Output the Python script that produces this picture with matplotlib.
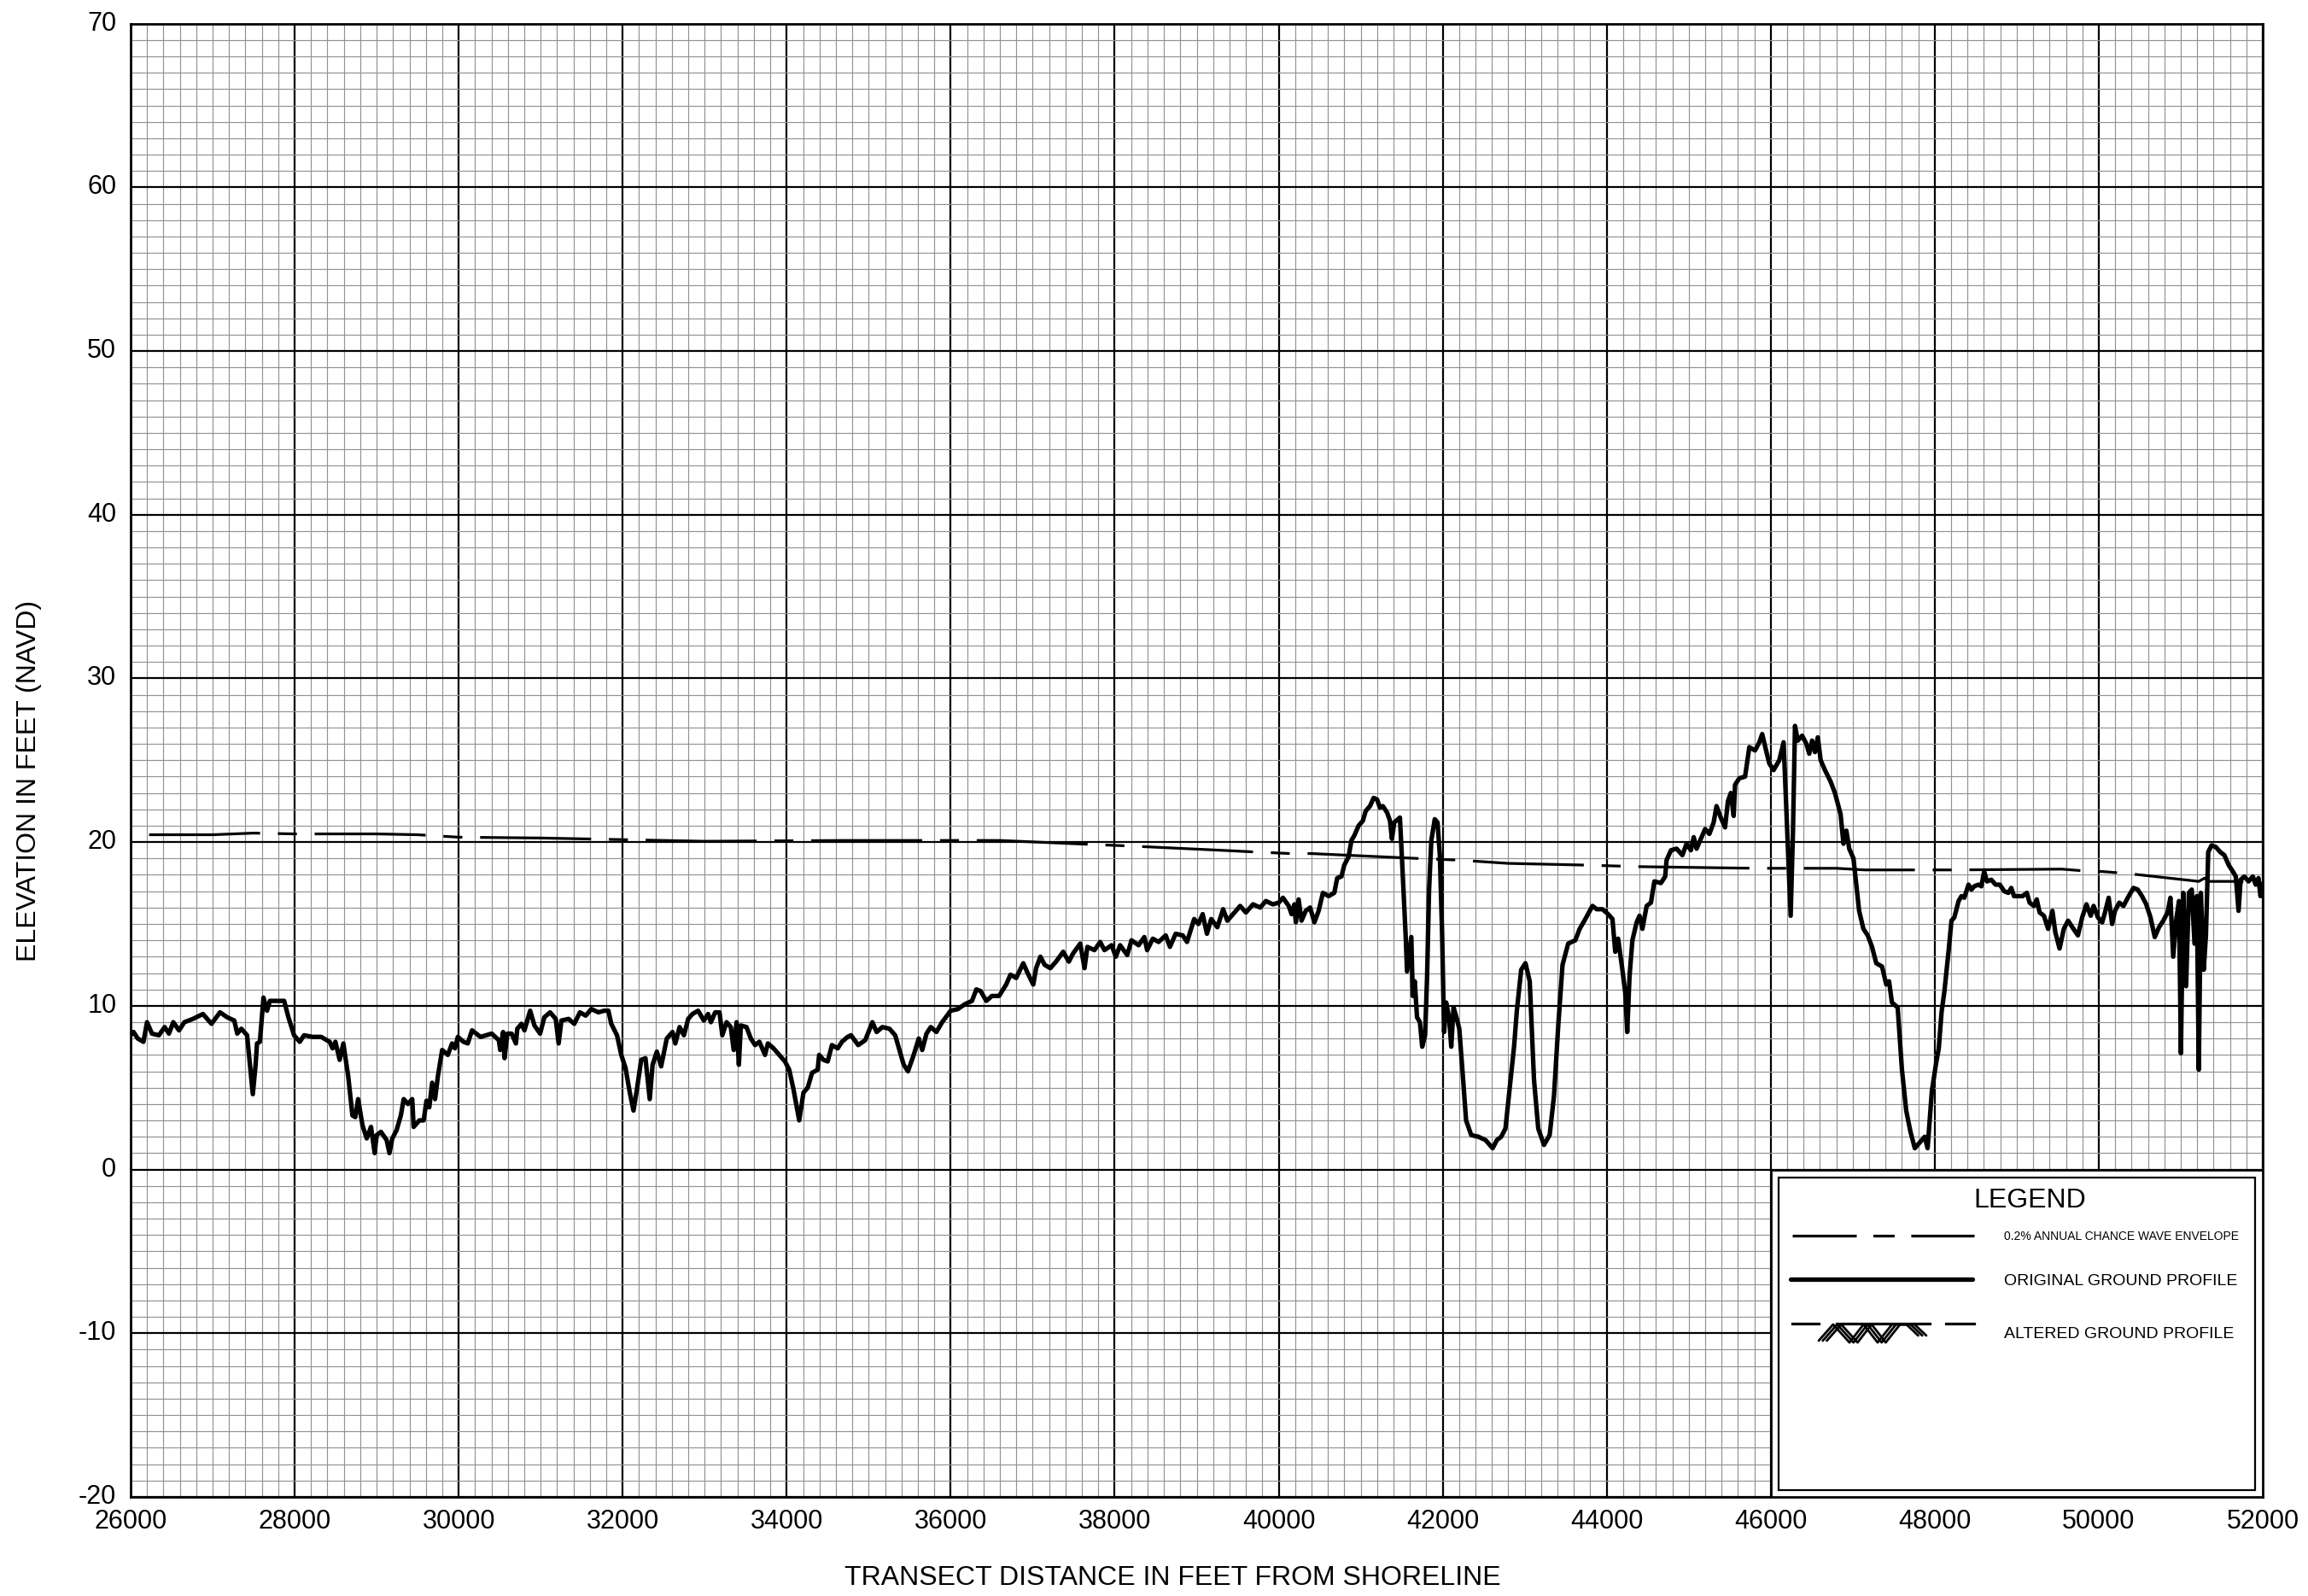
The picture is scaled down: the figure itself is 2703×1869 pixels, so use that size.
import matplotlib
matplotlib.use("Agg")
import matplotlib.pyplot as plt
from matplotlib import font_manager
from matplotlib.patches import Rectangle
from matplotlib.transforms import ScaledTranslation
import numpy as np

plt.rcParams['font.family'] = ['Liberation Sans', 'DejaVu Sans']
plt.rcParams['lines.scale_dashes'] = False
plt.rcParams['axes.unicode_minus'] = False

# ---- data ----
x_ticks = [26000, 28000, 30000, 32000, 34000, 36000, 38000, 40000, 42000,
           44000, 46000, 48000, 50000, 52000]
y_ticks = [-20, -10, 0, 10, 20, 30, 40, 50, 60, 70]

# 0.2% annual chance wave envelope
envelope_x = [26000, 27000, 27500, 28000, 29000, 29500, 30000, 31000, 31500,
              32500, 33000, 34700, 36600, 37700, 38150, 39300, 39700, 40150,
              40400, 41700, 42200, 42800, 43700, 44400, 45800, 46800, 47150,
              48000, 48250, 49550, 49800, 50050, 50300, 50500, 51220, 51290,
              51340, 51650, 52000]
envelope_y = [20.45, 20.45, 20.55, 20.5, 20.5, 20.45, 20.3, 20.25, 20.2,
              20.1, 20.05, 20.1, 20.1, 19.86, 19.77, 19.5, 19.4, 19.3,
              19.3, 19.0, 18.9, 18.7, 18.6, 18.5, 18.4, 18.4, 18.3,
              18.3, 18.3, 18.35, 18.25, 18.2, 18.1, 18.0, 17.6, 17.8,
              17.6, 17.6, 17.5]

# original ground profile
profile_x = [
    26000, 26035, 26087, 26156, 26200, 26260, 26345, 26415, 26467, 26520,
    26590, 26656, 26760, 26882, 26986, 27090, 27177, 27264, 27300, 27350,
    27420, 27455, 27490, 27524, 27541, 27576, 27620, 27663, 27698, 27872,
    27924, 27993, 28062, 28115, 28220, 28323, 28427, 28462, 28497, 28549,
    28594, 28653, 28705, 28740, 28774, 28827, 28879, 28931, 28976, 29000,
    29052, 29122, 29156, 29191, 29243, 29295, 29330, 29382, 29434, 29451,
    29521, 29573, 29608, 29642, 29677, 29712, 29747, 29799, 29868, 29920,
    29955, 29990, 30059, 30111, 30163, 30267, 30337,
    30403, 30490, 30507, 30542, 30559, 30594, 30646, 30698, 30715, 30767,
    30802, 30872, 30924, 30993, 31045, 31115, 31184, 31219, 31253, 31340,
    31410, 31479, 31549, 31618, 31705, 31774, 31826, 31861, 31931, 31983,
    32035, 32087, 32132, 32174, 32226, 32278, 32330, 32365, 32417, 32469,
    32538, 32608, 32642, 32694, 32747, 32799, 32851, 32920, 32990, 33042,
    33076, 33128, 33181, 33215, 33267, 33319, 33354, 33389, 33417, 33441,
    33510, 33563, 33615, 33667, 33736, 33771, 33840, 33910, 33979, 34031,
    34083, 34153, 34205, 34257, 34309, 34378, 34396, 34448, 34500, 34552,
    34622, 34674, 34743,
    34785, 34872, 34958, 35045, 35097, 35167, 35253, 35323, 35375, 35427,
    35479, 35549, 35611, 35653, 35705, 35757, 35826, 35896, 36000, 36087,
    36174, 36260, 36313, 36365, 36434, 36503, 36590, 36677, 36729, 36799,
    36885, 36938, 37007, 37042, 37094, 37146, 37215, 37285, 37372, 37441,
    37493, 37580, 37632, 37667, 37753, 37823, 37875, 37962, 38014, 38066,
    38153, 38205, 38292, 38361, 38396, 38465, 38535, 38622, 38674, 38743,
    38830, 38882, 38969, 39021, 39073, 39125, 39177,
    39252, 39322, 39374, 39461, 39530, 39600, 39687, 39774, 39843, 39930,
    40000, 40052, 40122, 40157, 40191, 40209, 40243, 40278, 40330, 40383,
    40435, 40487, 40539, 40609, 40678, 40713, 40765, 40800, 40852, 40887,
    40922, 40974, 41026, 41061, 41113, 41158, 41200, 41235, 41270, 41322,
    41357, 41381, 41409, 41478, 41506, 41548, 41565, 41617, 41635, 41659,
    41687, 41722, 41750, 41785, 41809, 41833, 41861, 41903, 41937, 41965,
    41993, 42017, 42042, 42077, 42104, 42132, 42167, 42202, 42237, 42285,
    42348, 42435, 42522, 42609, 42661, 42713, 42765, 42817, 42870, 42904,
    42957, 43009, 43061, 43113, 43165, 43235, 43304, 43357, 43409, 43461,
    43530, 43617, 43670,
    43739, 43826, 43878, 43948, 44017, 44070, 44104, 44139, 44191, 44226,
    44250, 44278, 44313, 44365, 44400, 44435, 44487, 44539, 44581, 44661,
    44713, 44730, 44783, 44852, 44922, 44974, 45026, 45061, 45096, 45148,
    45200, 45252, 45304, 45339, 45391, 45443, 45478, 45513, 45548, 45565,
    45617, 45687, 45739, 45809, 45861, 45896, 45948, 45983, 46035, 46104,
    46157, 46191, 46243, 46271, 46296, 46330, 46383, 46435, 46470, 46504,
    46539, 46574, 46609, 46661, 46730, 46783, 46852, 46887, 46922, 46957,
    47009, 47078, 47130, 47183, 47235, 47287, 47357, 47409, 47443, 47478,
    47548, 47600, 47652, 47704, 47757, 47826, 47878, 47913, 47965, 48017,
    48049, 48083, 48118, 48170, 48204, 48239, 48291, 48326, 48360, 48412,
    48447, 48481, 48533, 48568, 48603, 48637, 48690, 48742, 48794, 48846,
    48898, 48933, 48967, 49019, 49071, 49123, 49157, 49209, 49244, 49279,
    49331, 49383, 49435, 49470, 49522, 49574, 49626, 49678, 49746, 49798,
    49850, 49902, 49937, 49990, 50042, 50076, 50121, 50163, 50198, 50250,
    50302, 50354, 50423, 50475, 50527, 50579, 50631, 50683, 50735, 50787,
    50839, 50874, 50908, 50943, 50978, 51002, 51030, 51065, 51099, 51134,
    51168, 51196, 51220, 51245, 51280, 51307, 51335, 51376, 51428, 51480,
    51532, 51584, 51636, 51671, 51705, 51730, 51775, 51827, 51879, 51914,
    51948, 51972, 52000]
profile_y = [
    8.2, 8.4, 8.0, 7.8, 9.0, 8.3, 8.2, 8.7, 8.3, 9.0,
    8.5, 9.0, 9.2, 9.5, 8.9, 9.6, 9.3, 9.1, 8.3, 8.6,
    8.2, 6.4, 4.6, 6.4, 7.7, 7.8, 10.5, 9.7, 10.3, 10.3,
    9.3, 8.2, 7.8, 8.2, 8.1, 8.1, 7.8, 7.4, 7.8, 6.7,
    7.7, 5.7, 3.3, 3.2, 4.3, 2.7, 1.9, 2.6, 1.0, 2.1,
    2.3, 1.8, 1.0, 1.9, 2.4, 3.3, 4.3, 4.0, 4.3, 2.6,
    3.0, 3.0, 4.2, 3.8, 5.3, 4.3, 5.7, 7.3, 7.0, 7.7,
    7.4, 8.1, 7.8, 7.7, 8.5, 8.1, 8.2,
    8.3, 7.9, 7.3, 8.4, 6.8, 8.3, 8.3, 7.7, 8.6, 8.9,
    8.5, 9.7, 8.8, 8.3, 9.3, 9.6, 9.2, 7.7, 9.1, 9.2,
    8.9, 9.6, 9.4, 9.8, 9.6, 9.7, 9.7, 8.9, 8.2, 7.0,
    6.2, 4.7, 3.6, 4.9, 6.7, 6.8, 4.3, 6.4, 7.2, 6.3,
    8.0, 8.4, 7.7, 8.7, 8.2, 9.2, 9.5, 9.7, 9.1, 9.5,
    9.0, 9.6, 9.6, 8.2, 9.0, 8.7, 7.3, 9.0, 6.4, 8.8,
    8.7, 8.0, 7.6, 7.8, 7.0, 7.7, 7.4, 7.0, 6.6, 6.1,
    4.9, 3.0, 4.7, 5.0, 5.9, 6.1, 7.0, 6.7, 6.6, 7.6,
    7.4, 7.8, 8.1,
    8.2, 7.6, 7.9, 9.0, 8.4, 8.7, 8.6, 8.2, 7.3, 6.4,
    6.0, 7.0, 8.0, 7.3, 8.3, 8.7, 8.4, 9.0, 9.7, 9.8,
    10.1, 10.3, 11.0, 10.9, 10.3, 10.6, 10.6, 11.3, 11.9, 11.7,
    12.6, 12.0, 11.3, 12.3, 13.0, 12.5, 12.3, 12.7, 13.3, 12.7,
    13.2, 13.8, 12.3, 13.6, 13.4, 13.9, 13.4, 13.7, 13.0, 13.7,
    13.1, 14.0, 13.7, 14.2, 13.4, 14.1, 13.9, 14.3, 13.6, 14.4,
    14.3, 13.9, 15.3, 15.0, 15.6, 14.4, 15.3,
    14.8, 15.9, 15.2, 15.7, 16.1, 15.7, 16.2, 16.0, 16.4, 16.2,
    16.3, 16.6, 16.1, 15.6, 16.2, 15.1, 16.5, 15.2, 15.8, 16.0,
    15.1, 15.8, 16.9, 16.7, 16.9, 17.8, 17.9, 18.6, 19.1, 20.1,
    20.4, 21.0, 21.3, 21.9, 22.2, 22.7, 22.6, 22.1, 22.2, 21.8,
    21.3, 20.2, 21.2, 21.5, 18.7, 14.3, 12.1, 14.2, 10.6, 11.5,
    9.3, 9.0, 7.5, 8.2, 11.7, 17.0, 20.1, 21.4, 21.2, 19.2,
    14.3, 8.4, 10.2, 9.3, 7.5, 9.9, 9.3, 8.6, 6.3, 3.0,
    2.1, 2.0, 1.8, 1.3, 1.8, 2.0, 2.5, 5.0, 7.5, 9.7,
    12.2, 12.6, 11.5, 5.5, 2.5, 1.5, 2.1, 4.5, 8.8, 12.5,
    13.8, 14.0, 14.7,
    15.3, 16.1, 15.9, 15.9, 15.6, 15.3, 13.3, 14.1, 12.2, 10.8,
    8.4, 11.8, 14.0, 15.1, 15.5, 14.7, 16.1, 16.3, 17.6, 17.5,
    17.9, 18.9, 19.5, 19.6, 19.2, 19.9, 19.5, 20.3, 19.6, 20.2,
    20.8, 20.5, 21.2, 22.2, 21.5, 20.9, 22.5, 23.0, 21.6, 23.5,
    23.9, 24.0, 25.8, 25.6, 26.1, 26.6, 25.5, 24.8, 24.4, 25.0,
    26.1, 21.9, 15.5, 20.6, 27.1, 26.2, 26.5, 26.0, 25.4, 26.2,
    25.5, 26.4, 25.0, 24.4, 23.7, 23.0, 21.7, 19.9, 20.7, 19.6,
    19.0, 15.8, 14.7, 14.3, 13.6, 12.6, 12.4, 11.3, 11.5, 10.2,
    9.9, 6.1, 3.6, 2.3, 1.3, 1.7, 2.0, 1.3, 4.8, 6.5,
    7.4, 9.6, 10.9, 13.4, 15.2, 15.4, 16.4, 16.7, 16.6, 17.4,
    17.1, 17.3, 17.4, 17.3, 18.2, 17.6, 17.7, 17.4, 17.4, 17.0,
    16.9, 17.2, 16.7, 16.7, 16.7, 16.9, 16.3, 16.1, 16.5, 15.7,
    15.5, 14.7, 15.8, 14.5, 13.5, 14.7, 15.2, 14.8, 14.3, 15.4,
    16.2, 15.5, 16.1, 15.4, 15.1, 15.7, 16.6, 15.0, 15.8, 16.3,
    16.1, 16.6, 17.2, 17.1, 16.7, 16.2, 15.4, 14.2, 14.8, 15.2,
    15.7, 16.6, 13.0, 15.2, 16.4, 7.1, 16.9, 11.2, 16.9, 17.1,
    13.8, 16.7, 6.1, 16.9, 12.2, 14.3, 19.4, 19.8, 19.7, 19.4,
    19.2, 18.6, 18.2, 17.9, 15.8, 17.7, 17.9, 17.6, 17.9, 17.4,
    17.8, 16.7, 17.3]

legend_title = "LEGEND"
legend_labels = ["0.2% ANNUAL CHANCE WAVE ENVELOPE",
                 "ORIGINAL GROUND PROFILE",
                 "ALTERED GROUND PROFILE"]

# narrow face for the first legend entry, if it is installed
font_names = {f.name for f in font_manager.fontManager.ttflist}
if 'Liberation Sans Narrow' in font_names:
    narrow_kw = dict(family=['Liberation Sans Narrow', 'DejaVu Sans'], fontsize=12)
else:
    narrow_kw = dict(fontsize=10)

fig = plt.figure(figsize=(27.03, 18.69), dpi=100)
ax = fig.add_axes([0.0566, 0.0621, 0.9238, 0.9231])
ax.set_xlim(26000, 52000)
ax.set_ylim(-20, 70)

# graph-paper grid
ax.set_xticks(x_ticks)
ax.set_yticks(y_ticks)
ax.set_xticks(np.arange(26000, 52001, 200), minor=True)
ax.set_yticks(np.arange(-20, 71, 1), minor=True)
ax.set_axisbelow(True)
ax.grid(which='minor', color='#929292', lw=0.85)
ax.grid(which='major', color='black', lw=1.6)
ax.tick_params(which='both', length=0, labelsize=22)
ax.tick_params(axis='x', pad=10)
ax.tick_params(axis='y', pad=12)
for sp in ax.spines.values():
    sp.set_linewidth(2.0)
# nudge y labels up a touch so "-20" clears "26000"
lift = ScaledTranslation(0, 2.5 / 72, fig.dpi_scale_trans)
for lab in ax.get_yticklabels():
    lab.set_transform(lab.get_transform() + lift)

# curves
ax.plot(envelope_x, envelope_y, color='black', lw=2.3,
        linestyle=(124, (93.6, 15, 16, 15)))
ax.plot(profile_x, profile_y, color='black', lw=3.8, solid_joinstyle='round')

# legend panel (bottom right block)
tr = ax.transAxes
ax.add_patch(Rectangle((0.76923, 0.0), 0.23077, 0.22222, transform=tr,
                       facecolor='white', edgecolor='black', lw=2.0, zorder=3))
ax.add_patch(Rectangle((0.77292, 0.00467), 0.22346, 0.21211, transform=tr,
                       facecolor='none', edgecolor='black', lw=1.6, zorder=4))
ax.text(0.8907, 0.2011, legend_title, transform=tr, ha='center', va='center',
        fontsize=23, zorder=5)

# wave envelope sample
ax.plot([0.77935, 0.86465], [0.1774, 0.1774], transform=tr, color='black',
        lw=2.3, linestyle=(0, (54, 14, 18, 14)), zorder=5)
ax.text(0.87865, 0.1770, legend_labels[0], transform=tr, ha='left',
        va='center', zorder=5, **narrow_kw)

# original ground sample
ax.plot([0.77854, 0.86385], [0.1479, 0.1479], transform=tr, color='black',
        lw=3.8, solid_capstyle='round', zorder=5)
ax.text(0.87865, 0.1462, legend_labels[1], transform=tr, ha='left',
        va='center', fontsize=14, zorder=5)

# altered ground sample: dashes + triple zig-zag symbol
for x0, x1 in [(0.77935, 0.79173), (0.80015, 0.84381), (0.85142, 0.86465)]:
    ax.plot([x0, x1], [0.1176, 0.1176], transform=tr, color='black',
            lw=2.3, zorder=5)
zig_x = np.array([0.79363, 0.80040, 0.80806, 0.81465, 0.82126, 0.82800,
                  0.83476, 0.84029])
zig_y = [0.10600, 0.11707, 0.10480, 0.11707, 0.10480, 0.11707, 0.11707, 0.10950]
for off in (-0.0019, 0.0, 0.0019):
    ax.plot(zig_x + off, zig_y, transform=tr, color='black', lw=2.0,
            solid_capstyle='round', zorder=5)
ax.text(0.87865, 0.1104, legend_labels[2], transform=tr, ha='left',
        va='center', fontsize=14, zorder=5)

# axis titles
fig.text(34.5 / 2703, 1 - 914 / 1869, "ELEVATION IN FEET (NAVD)", rotation=90,
         ha='center', va='center', fontsize=23)
fig.text(1373 / 2703, 1 - 1848 / 1869, "TRANSECT DISTANCE IN FEET FROM SHORELINE",
         ha='center', va='center', fontsize=23)

fig.savefig("out.png", dpi=100)
